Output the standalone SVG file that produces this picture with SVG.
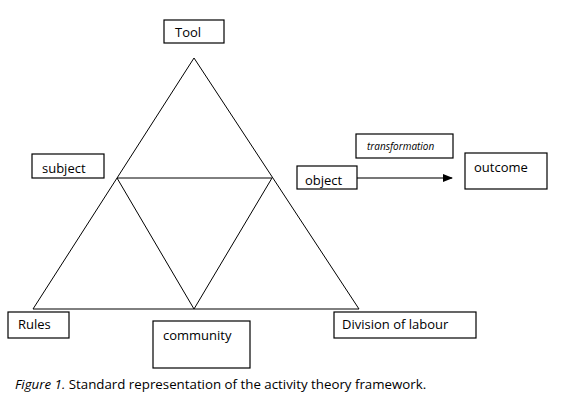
<svg xmlns="http://www.w3.org/2000/svg" width="571" height="405" viewBox="0 0 571 405">
<style>
.box{fill:#fff;stroke:#000;stroke-width:1.2}
.t{font-family:"Open Sans","Liberation Sans",sans-serif;font-size:13px;fill:#000}
.small{font-size:10px;font-style:italic}
.cap{font-size:13.3px}
.ln{stroke:#000;stroke-width:1;fill:none}
</style>
<defs>
<marker id="ah" markerWidth="10" markerHeight="8" refX="9" refY="4" orient="auto" markerUnits="userSpaceOnUse">
<path d="M0,0 L10,4 L0,8 Z" fill="#000"/>
</marker>
<clipPath id="cs"><rect x="32" y="154" width="72" height="24"/></clipPath>
<clipPath id="co"><rect x="297" y="166" width="60" height="23"/></clipPath>
</defs>
<rect width="571" height="405" fill="#fff"/>
<g id="connectors">
<path class="ln" d="M194,58 L33,309 L359,309 Z"/>
<path class="ln" d="M117,178 L272,178 L194,309 Z"/>
<line x1="357" y1="178" x2="452" y2="178" stroke="#777" stroke-width="2" marker-end="url(#ah)"/>
</g>
<g id="tool"><rect class="box" x="164" y="20" width="60" height="23"/><text class="t" x="175" y="37">Tool</text></g>
<g id="subject"><rect class="box" x="32" y="154" width="72" height="24"/><text class="t" x="42" y="173" clip-path="url(#cs)">subject</text></g>
<g id="object"><rect class="box" x="297" y="166" width="60" height="23"/><text class="t" x="305" y="185" clip-path="url(#co)">object</text></g>
<g id="transformation"><rect class="box" x="356" y="134" width="97" height="24"/><text class="t small" x="367" y="150">transformation</text></g>
<g id="outcome"><rect class="box" x="465" y="153" width="82" height="36"/><text class="t" x="474" y="172">outcome</text></g>
<g id="rules"><rect class="box" x="8" y="312" width="61" height="26"/><text class="t" x="18" y="329">Rules</text></g>
<g id="community"><rect class="box" x="153" y="321" width="97" height="47"/><text class="t" x="163" y="340">community</text></g>
<g id="division"><rect class="box" x="334" y="312" width="142" height="26"/><text class="t" x="342" y="329">Division of labour</text></g>
<text class="t cap" x="15" y="389"><tspan style="font-style:italic">Figure 1.</tspan> Standard representation of the activity theory framework.</text>
</svg>
